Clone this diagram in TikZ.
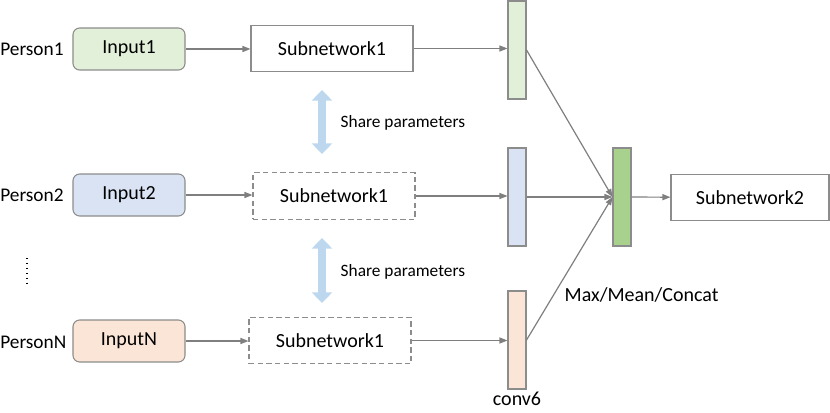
\documentclass[tikz,border=0pt]{standalone}
\usepackage{fontspec}
\setmainfont{Carlito}
\usetikzlibrary{arrows.meta,positioning}
\definecolor{ingreen}{HTML}{E2F0D9}
\definecolor{inblue}{HTML}{DAE3F3}
\definecolor{inorange}{HTML}{FBE5D6}
\definecolor{poolgreen}{HTML}{A9D18E}
\definecolor{sharecol}{HTML}{BDD7EE}
\definecolor{linecol}{HTML}{7F7F7F}

\begin{document}
\begin{tikzpicture}[x=0.75pt,y=-0.75pt,
      font=\fontsize{15}{18}\selectfont,
      inbox/.style={rectangle,draw=linecol!90,rounded corners=5pt,line width=0.8pt,
                    minimum width=84pt,minimum height=31.5pt},
      subnet/.style={rectangle,draw=linecol!90,line width=0.8pt,
                     minimum width=121.5pt,minimum height=35pt},
      shared/.style={subnet,dash pattern=on 4pt off 2.5pt},
      feat/.style={rectangle,draw=linecol!90,line width=0.8pt,inner sep=0pt,
                   minimum width=13.5pt,minimum height=73.5pt},
      person/.style={anchor=west,inner sep=0pt,font=\fontsize{14.5}{17}\selectfont},
      arrow/.style={-{Triangle[length=6pt,width=4.5pt]},linecol,line width=0.9pt},
      share/.style={{Triangle[length=8pt,width=15pt]}-{Triangle[length=8pt,width=15pt]},
                    sharecol,line width=6pt},
      >=Latex
    ]
    \useasboundingbox (0,0) rectangle (830,413);

    % Persons
    \node[person] (P1) at (0,49) {Person1};
    \node[person] (P2) at (0,195) {Person2};
    \node[person] (PN) at (0,342) {PersonN};
    \coordinate (D1) at (27,258);
    \coordinate (D2) at (27,286);
    \draw[line width=1.1pt,dash pattern=on 1.1pt off 2.6pt] (D1) -- (D2);

    % Inputs
    \node[inbox,fill=ingreen] (I1) at (129,49) {Input1};
    \node[inbox,fill=inblue] (I2) at (129,195) {Input2};
    \node[inbox,fill=inorange] (IN) at (129,341) {InputN};

    % Shared subnetworks
    \node[subnet] (S1) at (332,48.5) {Subnetwork1};
    \node[shared] (S2) at (334,196) {Subnetwork1};
    \node[shared] (SN) at (330,340.5) {Subnetwork1};

    % conv6 features
    \node[feat,fill=ingreen] (F1) at (517,50) {};
    \node[feat,fill=inblue] (F2) at (517,197) {};
    \node[feat,fill=inorange] (FN) at (517,340) {};
    \node[below=1pt of FN,inner sep=1pt] (conv) {conv6};

    % Pooling and second subnetwork
    \node[feat,fill=poolgreen] (G) at (622,197) {};
    \node[subnet,minimum width=118.5pt,minimum height=34pt] (T) at (750,197.5) {Subnetwork2};

    % Share arrows
    \coordinate (A1) at (322,90);
    \coordinate (B1) at (322,154);
    \coordinate (A2) at (322,238);
    \coordinate (B2) at (322,303);
    \draw[share] (A1) -- (B1);
    \draw[share] (A2) -- (B2);
    \node[anchor=west,font=\fontsize{13}{15}\selectfont] (L1) at (336,123) {Share parameters};
    \node[anchor=west,font=\fontsize{13}{15}\selectfont] (L2) at (336,272) {Share parameters};

    % Connections
    \draw[arrow] (I1) -- (S1.west |- I1);
    \draw[arrow] (I2) -- (S2.west |- I2);
    \draw[arrow] (IN) -- (SN.west |- IN);
    \draw[arrow] (S1) -- (F1.west |- S1);
    \draw[arrow] (S2) -- (F2.west |- S2);
    \draw[arrow] (SN) -- (FN.west |- SN);
    \draw[arrow] (F1.east) -- (G.west);
    \draw[arrow] (F2.east) -- (G.west);
    \draw[arrow] (FN.east) -- (G.west);
    \draw[arrow] (G) -- (T);
    \node[anchor=west] (M) at (560,295) {Max/Mean/Concat};

  \end{tikzpicture}
\end{document}
